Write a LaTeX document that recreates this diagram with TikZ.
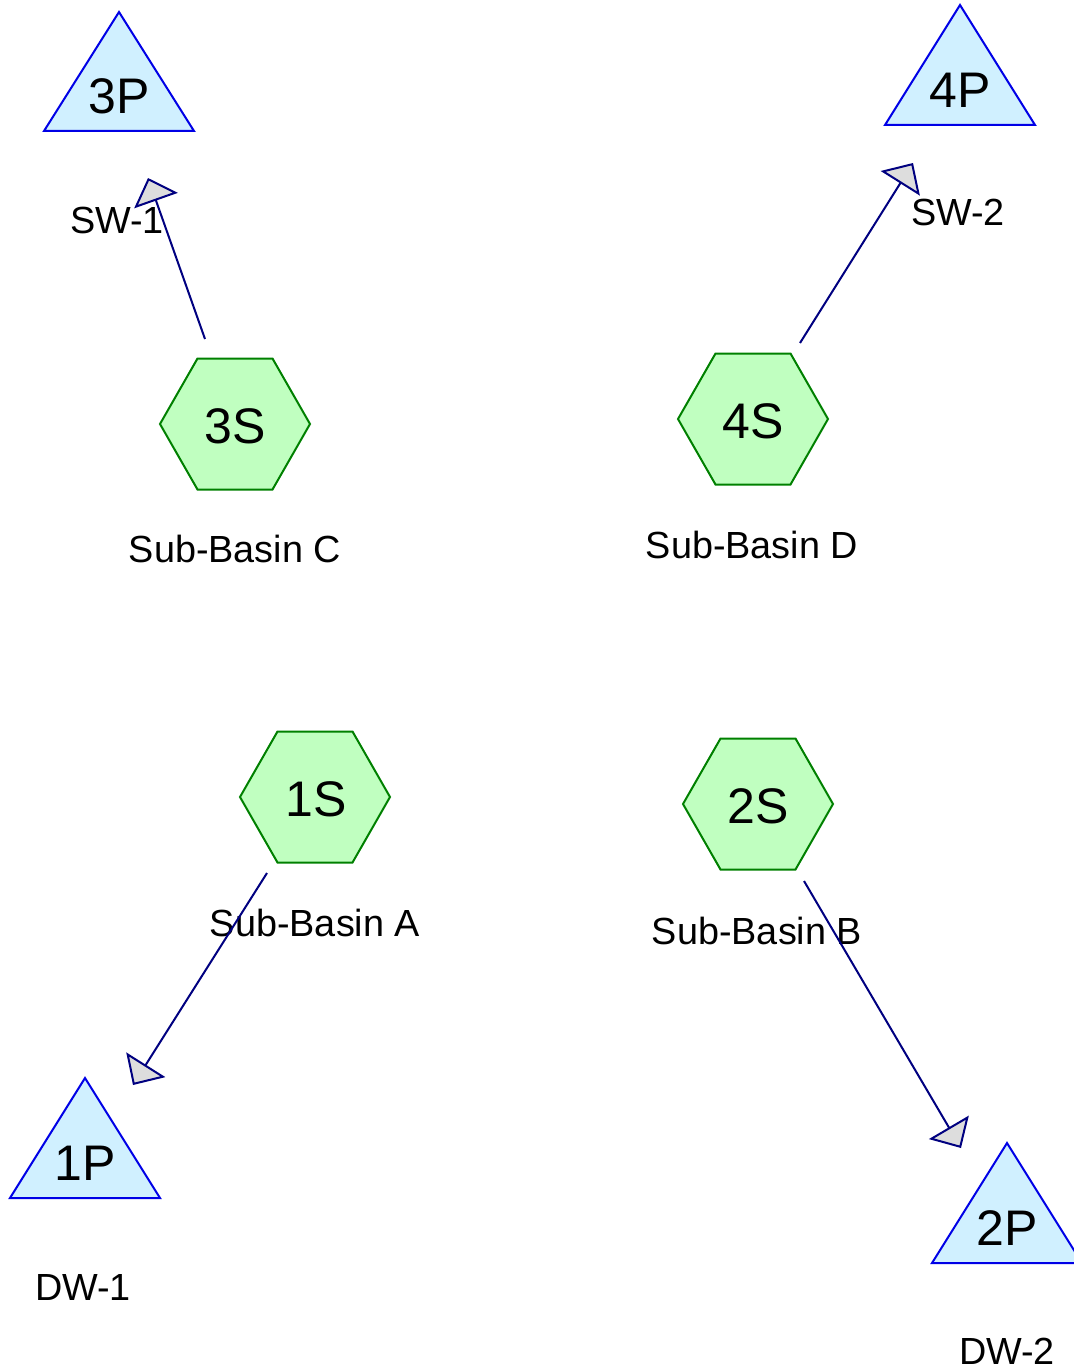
\documentclass[tikz,border=0pt]{standalone}
\usepackage{fontspec}
\setmainfont{Liberation Sans}
\usetikzlibrary{arrows.meta}
\definecolor{pfill}{RGB}{208,240,255}
\definecolor{pline}{RGB}{0,0,230}
\definecolor{sfill}{RGB}{192,255,192}
\definecolor{sline}{RGB}{0,128,0}
\definecolor{aline}{RGB}{0,0,128}
\definecolor{afill}{RGB}{221,221,221}
\begin{document}
\begin{tikzpicture}[x=1pt,y=-1pt,
 pond/.style={fill=pfill,draw=pline,line width=2pt},
 basin/.style={fill=sfill,draw=sline,line width=2pt},
 idtext/.style={font=\fontsize{50}{58}\selectfont,inner sep=0pt},
 lbl/.style={font=\fontsize{37.8}{44}\selectfont,inner sep=0pt},
 flow/.style={draw=aline,line width=2pt,-{Triangle[length=24pt,width=46pt,fill=afill]}},
 hexa/.pic={\path[basin] (-75,0) -- (-37.5,-65.5) -- (37.5,-65.5) -- (75,0) -- (37.5,65.5) -- (-37.5,65.5) -- cycle;}]
\useasboundingbox (0,0) rectangle (1073,1370);
% ponds
\draw[pond] (119,12) -- (194,131) -- (44,131) -- cycle;
\draw[pond] (960,5) -- (1035,125) -- (885,125) -- cycle;
\draw[pond] (85,1078) -- (160,1198) -- (10,1198) -- cycle;
\draw[pond] (1007,1143) -- (1082,1263) -- (932,1263) -- cycle;
\node[idtext] (p3) at (119,96) {3P};
\node[idtext] (p4) at (960,90) {4P};
\node[idtext] (p1) at (85,1163) {1P};
\node[idtext] (p2) at (1007,1228) {2P};
% basins
\pic at (235,424) {hexa};
\pic at (753,419) {hexa};
\pic at (315,797) {hexa};
\pic at (758,804) {hexa};
\node[idtext] (s3) at (235,426) {3S};
\node[idtext] (s4) at (753,421) {4S};
\node[idtext] (s1) at (316,799) {1S};
\node[idtext] (s2) at (758,806) {2S};
% labels
\node[lbl] (lc) at (235,549) {Sub-Basin C};
\node[lbl] (ld) at (752,545) {Sub-Basin D};
\node[lbl] (la) at (315,923) {Sub-Basin A};
\node[lbl] (lb) at (757,931) {Sub-Basin B};
\node[lbl] (sw1) at (117,220) {SW-1};
\node[lbl] (sw2) at (958,212) {SW-2};
\node[lbl] (dw1) at (83,1287) {DW-1};
\node[lbl] (dw2) at (1007,1351) {DW-2};
% connectors
\coordinate (c3o) at (205,339);
\coordinate (c3t) at (148,178);
\coordinate (c4o) at (800,343);
\coordinate (c4t) at (913,163);
\coordinate (c1o) at (267,873);
\coordinate (c1t) at (133,1085);
\coordinate (c2o) at (804,881);
\coordinate (c2t) at (961,1148);
\draw[flow] (c3o) -- (c3t);
\draw[flow] (c4o) -- (c4t);
\draw[flow] (c1o) -- (c1t);
\draw[flow] (c2o) -- (c2t);
\end{tikzpicture}
\end{document}
